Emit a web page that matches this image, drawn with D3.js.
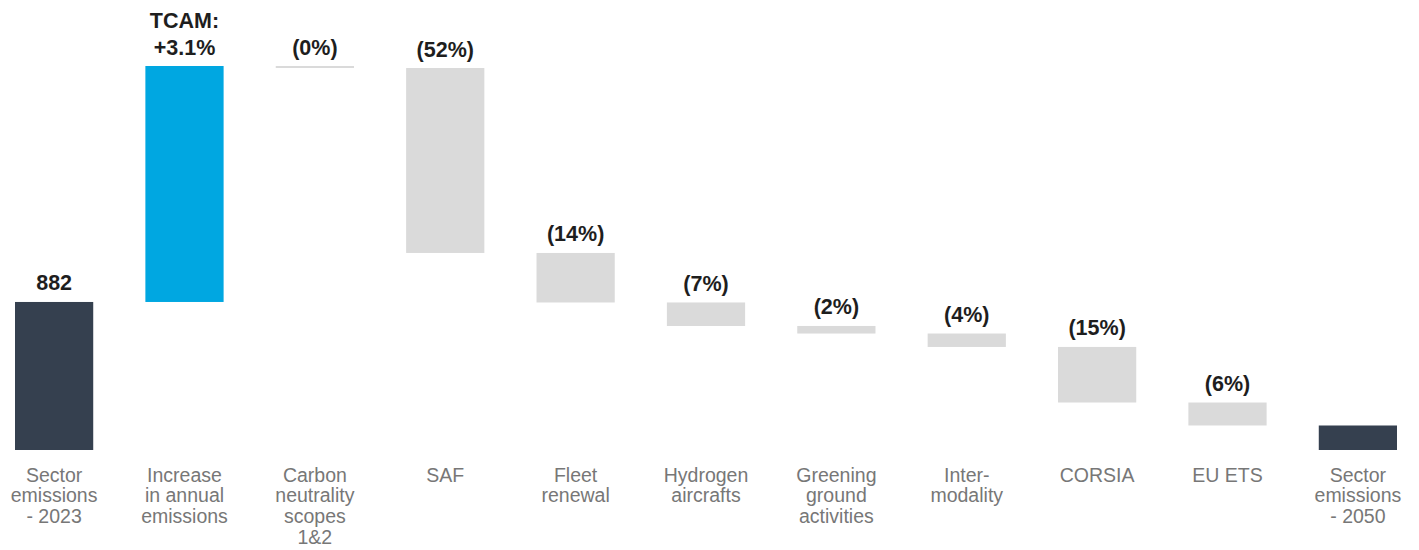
<!DOCTYPE html>
<html>
<head>
<meta charset="utf-8">
<script src="https://cdn.jsdelivr.net/npm/d3@7"></script>
<style>
  html, body { margin: 0; padding: 0; background: #ffffff; }
  svg { display: block; }
</style>
</head>
<body>
<svg id="chart" width="1419" height="550"></svg>
<script>
// ---- Data ----
const categories = [
  ["Sector", "emissions", "- 2023"],
  ["Increase", "in annual", "emissions"],
  ["Carbon", "neutrality", "scopes", "1&2"],
  ["SAF"],
  ["Fleet", "renewal"],
  ["Hydrogen", "aircrafts"],
  ["Greening", "ground", "activities"],
  ["Inter-", "modality"],
  ["CORSIA"],
  ["EU ETS"],
  ["Sector", "emissions", "- 2050"]
];
const barTypes = ["total", "increase", "decrease", "decrease", "decrease", "decrease",
                  "decrease", "decrease", "decrease", "decrease", "total"];
const startValue = 882;
const deltas = [1406, -12, -1102, -295, -140, -45, -80, -331, -137];
const valueLabels = [["882"], ["TCAM:", "+3.1%"], ["(0%)"], ["(52%)"], ["(14%)"], ["(7%)"],
                     ["(2%)"], ["(4%)"], ["(15%)"], ["(6%)"], []];

// ---- Build waterfall segments ----
const segs = [];
let run = startValue;
segs.push({ i: 0, y0: 0, y1: startValue });
deltas.forEach((d, k) => {
  const a = run, b = run + d;
  segs.push({ i: k + 1, y0: Math.min(a, b), y1: Math.max(a, b) });
  run = b;
});
segs.push({ i: categories.length - 1, y0: 0, y1: run });
const maxTop = d3.max(segs, s => s.y1);

// ---- Scales ----
const ids = categories.map((c, i) => i);
const x = d3.scaleBand().domain(ids).range([15, 1397]).paddingInner(0.4).paddingOuter(0);
const y = d3.scaleLinear().domain([0, maxTop]).range([450, 66]);

const colors = { total: "#35404f", increase: "#00a7e1", decrease: "#dadada" };

const svg = d3.select("#chart");

// Bars
svg.append("g").selectAll("rect").data(segs).join("rect")
  .attr("x", d => x(d.i))
  .attr("width", x.bandwidth())
  .attr("y", d => y(d.y1))
  .attr("height", d => Math.max(1, y(d.y0) - y(d.y1)))
  .attr("fill", d => colors[barTypes[d.i]]);

// Value labels
const vl = svg.append("g")
  .attr("font-family", "'Liberation Sans', Arial, Helvetica, sans-serif")
  .attr("font-size", 21.5)
  .attr("font-weight", "bold")
  .attr("fill", "#1e1e1e")
  .attr("text-anchor", "middle");
segs.forEach(s => {
  const lines = valueLabels[s.i];
  const n = lines.length;
  lines.forEach((t, j) => {
    vl.append("text")
      .attr("x", x(s.i) + x.bandwidth() / 2)
      .attr("y", y(s.y1) - 11.5 - (n - 1 - j) * 27)
      .text(t);
  });
});

// Category labels
const cl = svg.append("g")
  .attr("font-family", "'Liberation Sans', Arial, Helvetica, sans-serif")
  .attr("font-size", 19.5)
  .attr("fill", "#777777")
  .attr("text-anchor", "middle");
categories.forEach((lines, i) => {
  lines.forEach((t, j) => {
    cl.append("text")
      .attr("x", x(i) + x.bandwidth() / 2)
      .attr("y", 481.5 + j * 20.7)
      .text(t);
  });
});
</script>
</body>
</html>
